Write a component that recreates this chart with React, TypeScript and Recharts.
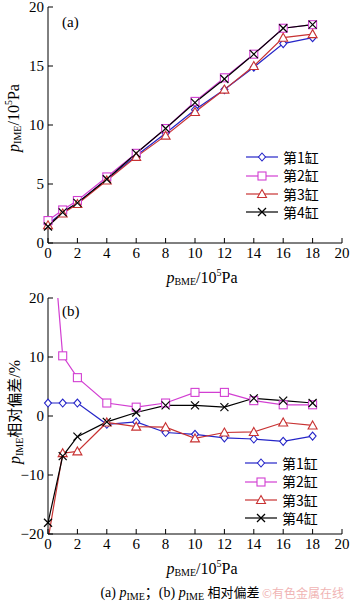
import React from 'react';
import { Line, LineChart, XAxis, YAxis } from 'recharts';

const bme = [0, 1, 2, 4, 6, 8, 10, 12, 14, 16, 18];
const names = ['第1缸', '第2缸', '第3缸', '第4缸'];

// (a) p_IME, 10^5 Pa
const ime1 = [1.6, 2.6, 3.4, 5.4, 7.4, 9.3, 11.3, 13.0, 14.9, 16.9, 17.4];
const ime2 = [1.9, 2.8, 3.6, 5.6, 7.6, 9.7, 12.0, 14.0, 16.0, 18.2, 18.5];
const ime3 = [1.5, 2.5, 3.3, 5.3, 7.3, 9.1, 11.1, 13.0, 15.0, 17.4, 17.7];
const ime4 = [1.4, 2.6, 3.4, 5.4, 7.6, 9.7, 11.9, 13.9, 16.0, 18.2, 18.5];

// (b) relative deviation, %
const dev1 = [2.2, 2.2, 2.2, -1.4, -1.0, -2.8, -3.1, -3.7, -3.9, -4.3, -3.4];
const dev2 = [40, 10.2, 6.5, 2.2, 1.5, 2.2, 4.0, 4.0, 2.6, 1.9, 1.9];
const dev3 = [-21, -6.3, -6.0, -1.1, -1.8, -1.9, -3.8, -2.8, -2.7, -1.1, -1.6];
const dev4 = [-18.1, -6.8, -3.5, -1.0, 0.6, 1.8, 1.8, 1.5, 3.0, 2.6, 2.2];

const xTicks = [0, 2, 4, 6, 8, 10, 12, 14, 16, 18, 20];
const yTicksA = [0, 5, 10, 15, 20];
const yTicksB = [-20, -10, 0, 10, 20];

const colors = ['#2525c8', '#d23fd2', '#c83232', '#000000'];
const shapes = ['diamond', 'square', 'triangle', 'cross'];

const serif = '"Liberation Serif", "Times New Roman", serif';
const cjk = '"Noto Sans CJK SC", sans-serif';

function Marker({ cx, cy, shape, color }: { cx: number; cy: number; shape: string; color: string }) {
  if (cx == null || cy == null) return null;
  const common = { fill: 'white', stroke: color, strokeWidth: 1.1 };
  if (shape === 'diamond')
    return <polygon points={`${cx},${cy - 4} ${cx + 3.5},${cy} ${cx},${cy + 4} ${cx - 3.5},${cy}`} {...common} />;
  if (shape === 'square') return <rect x={cx - 4} y={cy - 4} width={8} height={8} {...common} />;
  if (shape === 'triangle')
    return <polygon points={`${cx},${cy - 4.5} ${cx + 4.5},${cy + 3.5} ${cx - 4.5},${cy + 3.5}`} {...common} />;
  return (
    <g stroke={color} strokeWidth={1.2}>
      <line x1={cx - 4} y1={cy - 4} x2={cx + 4} y2={cy + 4} />
      <line x1={cx - 4} y1={cy + 4} x2={cx + 4} y2={cy - 4} />
    </g>
  );
}

const dotFor = (i: number) => (p: any) =>
  <Marker key={`d${i}-${p.index}`} cx={p.cx} cy={p.cy} shape={shapes[i]} color={colors[i]} />;

function LegendBox({ left, top }: { left: number; top: number }) {
  return (
    <div style={{ position: 'absolute', left, top, fontFamily: cjk, fontSize: 14, lineHeight: '18.4px' }}>
      {names.map((n, i) => (
        <div key={n} style={{ display: 'flex', alignItems: 'center', height: 18.4 }}>
          <svg width={34} height={18}>
            <line x1={1} y1={9} x2={33} y2={9} stroke={colors[i]} strokeWidth={1.2} />
            <Marker cx={17} cy={9} shape={shapes[i]} color={colors[i]} />
          </svg>
          <span style={{ marginLeft: 4 }}>{n}</span>
        </div>
      ))}
    </div>
  );
}

const tickStyle = { fontFamily: serif, fontSize: 15, fill: '#000' };
const fmt = (v: number) => (v < 0 ? `\u2212${-v}` : `${v}`);

function Panel({ rows, yTicks, overflow }: { rows: any[]; yTicks: number[]; overflow: boolean }) {
  return (
    <LineChart width={350} height={290} data={rows} margin={{ top: 7, right: 8, left: 8, bottom: 17 }}>
      <XAxis
        dataKey="x"
        type="number"
        domain={[0, 20]}
        ticks={xTicks}
        interval={0}
        height={30}
        tickSize={-5}
        tickMargin={9}
        stroke="#000"
        tick={tickStyle}
      />
      <XAxis xAxisId="top" orientation="top" type="number" domain={[0, 20]} height={0} tick={false} tickLine={false} stroke="#000" />
      <YAxis
        type="number"
        domain={[yTicks[0], yTicks[yTicks.length - 1]]}
        ticks={yTicks}
        interval={0}
        allowDataOverflow={overflow}
        width={40}
        tickSize={-5}
        tickMargin={9}
        stroke="#000"
        tick={tickStyle}
        tickFormatter={fmt}
      />
      <YAxis yAxisId="right" orientation="right" width={0} tick={false} tickLine={false} stroke="#000" />
      {names.map((n, i) => (
        <Line
          key={n}
          dataKey={`s${i}`}
          name={n}
          stroke={colors[i]}
          strokeWidth={1.2}
          dot={dotFor(i)}
          activeDot={false}
          isAnimationActive={false}
        />
      ))}
    </LineChart>
  );
}

const build = (series: number[][]) =>
  bme.map((x, k) => ({ x, s0: series[0][k], s1: series[1][k], s2: series[2][k], s3: series[3][k] }));

const P = () => <i style={{ fontFamily: serif }}>p</i>;
const Sub = ({ t }: { t: string }) => <span style={{ fontSize: 10, position: 'relative', top: 3 }}>{t}</span>;

export default function App() {
  const abs = (s: React.CSSProperties): React.CSSProperties => ({ position: 'absolute', ...s });
  return (
    <div style={{ position: 'absolute', left: 0, top: 0, width: 350, height: 605, background: '#fff', fontFamily: serif }}>
      <div style={abs({ left: 0, top: 0 })}>
        <Panel rows={build([ime1, ime2, ime3, ime4])} yTicks={yTicksA} overflow={false} />
      </div>
      <div style={abs({ left: 0, top: 291 })}>
        <Panel rows={build([dev1, dev2, dev3, dev4])} yTicks={yTicksB} overflow={true} />
      </div>

      <LegendBox left={245} top={148} />
      <LegendBox left={244} top={454} />

      <div style={abs({ left: 62, top: 14, fontSize: 15 })}>(a)</div>
      <div style={abs({ left: 62, top: 303, fontSize: 15 })}>(b)</div>

      {/* y axis titles */}
      <div style={abs({ left: 13, top: 118, transform: 'translate(-50%,-50%) rotate(-90deg)', whiteSpace: 'nowrap', fontSize: 16 })}>
        <P /><Sub t="IME" />/10<sup style={{ fontSize: 10 }}>5</sup>Pa
      </div>
      <div style={abs({ left: 13, top: 412, transform: 'translate(-50%,-50%) rotate(-90deg)', whiteSpace: 'nowrap', fontSize: 16 })}>
        <P /><Sub t="IME" /><span style={{ fontFamily: cjk, fontSize: 15 }}>相对偏差</span>/%
      </div>

      {/* x axis titles */}
      <div style={abs({ left: 202, top: 277, transform: 'translate(-50%,-50%)', whiteSpace: 'nowrap', fontSize: 16 })}>
        <P /><Sub t="BME" />/10<sup style={{ fontSize: 10 }}>5</sup>Pa
      </div>
      <div style={abs({ left: 202, top: 568, transform: 'translate(-50%,-50%)', whiteSpace: 'nowrap', fontSize: 16 })}>
        <P /><Sub t="BME" />/10<sup style={{ fontSize: 10 }}>5</sup>Pa
      </div>

      {/* caption */}
      <div style={abs({ left: 180, top: 591, transform: 'translate(-50%,-50%)', whiteSpace: 'nowrap', fontSize: 14 })}>
        (a) <P /><Sub t="IME" /><span style={{ fontFamily: cjk }}>；</span>(b) <P /><Sub t="IME" /> <span style={{ fontFamily: cjk, fontSize: 13 }}>相对偏差</span>
      </div>
      <div style={abs({ left: 262, top: 584, whiteSpace: 'nowrap', fontSize: 12, fontFamily: cjk, color: '#f0b4b4' })}>©有色金属在线</div>
    </div>
  );
}
